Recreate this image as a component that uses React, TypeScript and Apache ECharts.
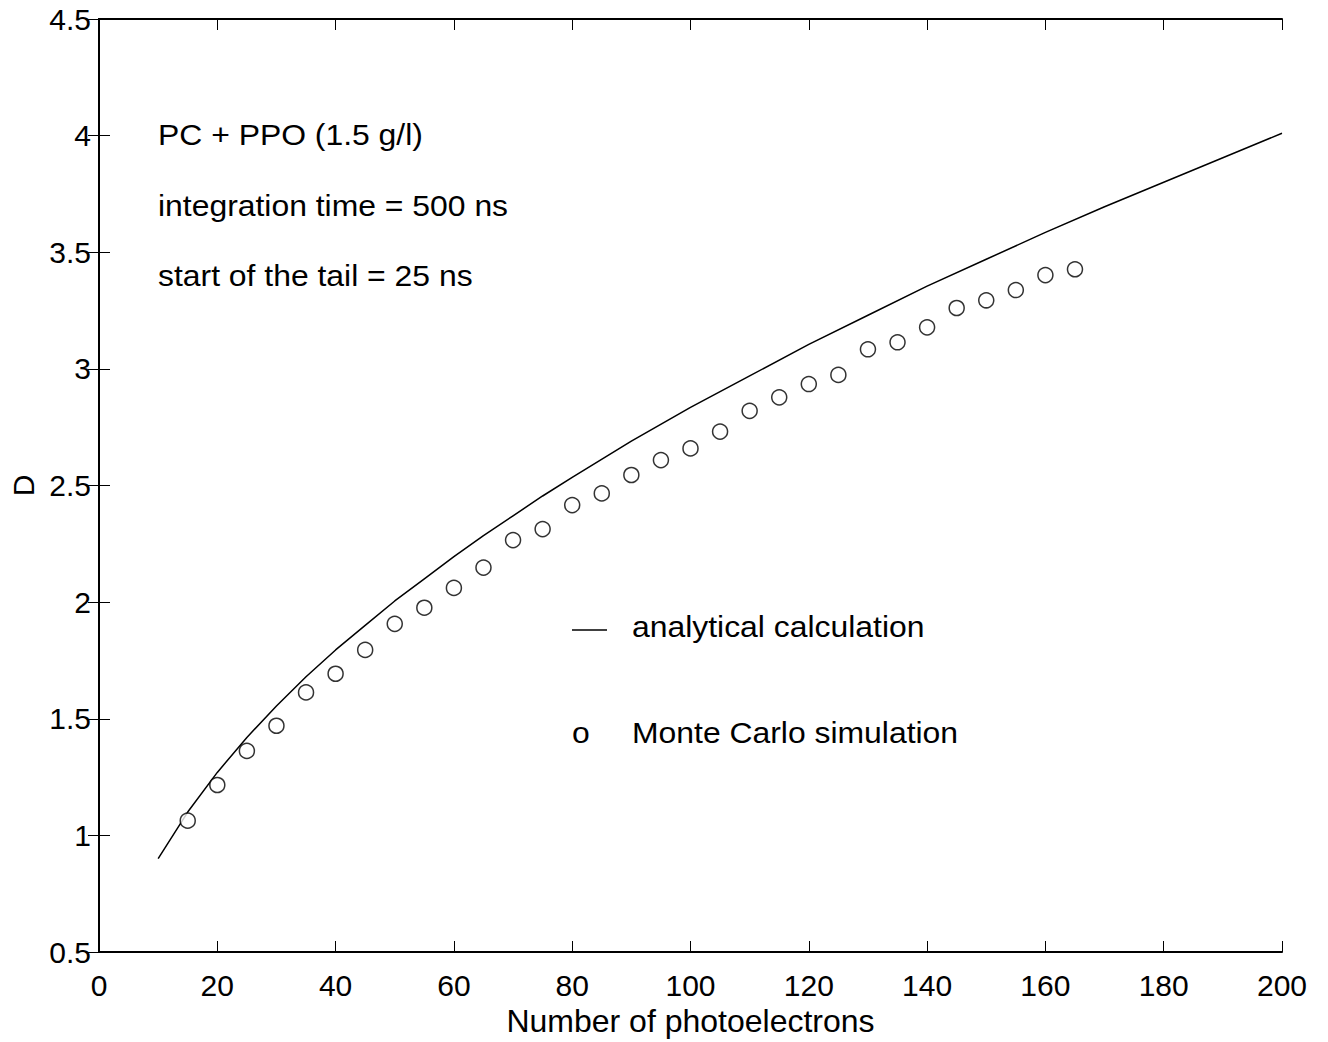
import React, { useEffect, useRef } from "react";
import * as echarts from "echarts";

// Analytical calculation curve
const lineX = [10, 15, 20, 25, 30, 35, 40, 45, 50, 55, 60, 65, 70, 75, 80, 90, 100, 110, 120, 130, 140, 150, 160, 170, 180, 190, 200];
const lineY = [0.9, 1.1, 1.27, 1.42, 1.555, 1.68, 1.795, 1.9, 2.005, 2.1, 2.195, 2.285, 2.37, 2.455, 2.535, 2.69, 2.835, 2.97, 3.105, 3.23, 3.355, 3.47, 3.585, 3.695, 3.8, 3.905, 4.01];

// Monte Carlo simulation points
const mcX = [15, 20, 25, 30, 35, 40, 45, 50, 55, 60, 65, 70, 75, 80, 85, 90, 95, 100, 105, 110, 115, 120, 125, 130, 135, 140, 145, 150, 155, 160, 165];
const mcY = [1.063, 1.216, 1.362, 1.47, 1.613, 1.693, 1.795, 1.907, 1.976, 2.061, 2.148, 2.266, 2.313, 2.416, 2.466, 2.545, 2.609, 2.659, 2.731, 2.82, 2.878, 2.935, 2.974, 3.084, 3.114, 3.178, 3.261, 3.294, 3.338, 3.402, 3.427];

const annotations = ["PC + PPO (1.5 g/l)", "integration time = 500 ns", "start of the tail = 25 ns"];
const legendLabels = ["analytical calculation", "Monte Carlo simulation"];

const FONT = "'Liberation Sans', Arial, Helvetica, sans-serif";

export default function App() {
  const ref = useRef<HTMLDivElement>(null);
  useEffect(() => {
    if (!ref.current) return;
    const chart = echarts.init(ref.current, undefined, { renderer: "svg" });
    const axisCommon = {
      axisLine: { show: true, lineStyle: { color: "#000", width: 2 } },
      axisTick: { show: true, inside: true, length: 11, lineStyle: { color: "#000", width: 1 } },
      splitLine: { show: false },
    };
    const txt = (text: string, x: number, y: number) => ({
      type: "text",
      x,
      y,
      scaleX: 1.1,
      style: { text, font: `29px ${FONT}`, fill: "#000", verticalAlign: "middle", align: "left" },
    });
    chart.setOption({
      animation: false,
      backgroundColor: "#fff",
      textStyle: { fontFamily: FONT },
      grid: { left: 99, right: 46, top: 19, bottom: 90, containLabel: false },
      xAxis: [
        {
          type: "value",
          min: 0,
          max: 200,
          interval: 20,
          position: "bottom",
          name: "Number of photoelectrons",
          nameLocation: "middle",
          nameGap: 39,
          nameTextStyle: { fontSize: 32, color: "#000", fontFamily: FONT },
          axisLabel: { fontSize: 30, color: "#000", margin: 18, fontFamily: FONT },
          ...axisCommon,
        },
        {
          type: "value",
          min: 0,
          max: 200,
          interval: 20,
          position: "top",
          axisLabel: { show: false },
          ...axisCommon,
        },
      ],
      yAxis: [
        {
          type: "value",
          min: 0.5,
          max: 4.5,
          interval: 0.5,
          position: "left",
          name: "D",
          nameLocation: "middle",
          nameGap: 58,
          nameTextStyle: { fontSize: 30, color: "#000", fontFamily: FONT },
          axisLabel: { fontSize: 30, color: "#000", margin: 8, fontFamily: FONT },
          ...axisCommon,
        },
        {
          type: "value",
          min: 0.5,
          max: 4.5,
          interval: 0.5,
          position: "right",
          axisLabel: { show: false },
          ...axisCommon,
        },
      ],
      series: [
        {
          name: legendLabels[0],
          type: "line",
          data: lineX.map((x, i) => [x, lineY[i]]),
          showSymbol: false,
          smooth: false,
          lineStyle: { color: "#000", width: 1.5 },
          z: 2,
        },
        {
          name: legendLabels[1],
          type: "scatter",
          data: mcX.map((x, i) => [x, mcY[i]]),
          symbol: "circle",
          symbolSize: 15,
          itemStyle: { color: "#fff", borderColor: "#000", borderWidth: 1.5 },
          z: 3,
        },
      ],
      graphic: [
        ...annotations.map((t, i) => txt(t, 158, 135 + i * 70.5)),
        {
          type: "line",
          shape: { x1: 572, y1: 630, x2: 607, y2: 630 },
          style: { stroke: "#000", lineWidth: 1.5 },
        },
        txt(legendLabels[0], 632, 627),
        txt("o", 572, 733),
        txt(legendLabels[1], 632, 733),
      ],
    });
    return () => chart.dispose();
  }, []);
  return (
    <div
      ref={ref}
      style={{ position: "absolute", left: 0, top: 0, width: 1328, height: 1042 }}
    />
  );
}
